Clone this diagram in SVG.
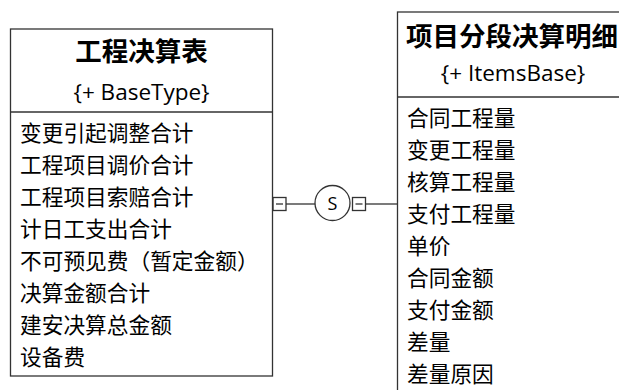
<svg xmlns="http://www.w3.org/2000/svg" width="619" height="390" viewBox="0 0 619 390">
<style>
.box{fill:#fff;stroke:#333;stroke-width:1.3}
.div{stroke:#333;stroke-width:1.3}
.title{font-family:"Noto Sans CJK SC","Noto Sans",sans-serif;font-weight:bold;font-size:26.5px;fill:#000;text-anchor:middle}
.sub{font-family:"Open Sans","Noto Sans",sans-serif;font-size:22.5px;fill:#000;text-anchor:middle}
.row{font-family:"Noto Sans CJK SC","Noto Sans",sans-serif;font-size:21.7px;fill:#000}
.ln{stroke:#333;stroke-width:1.3;fill:none}
.sq{fill:#fff;stroke:#333;stroke-width:1.3}
.s{font-family:"Open Sans","Liberation Sans",sans-serif;font-size:18px;fill:#000;text-anchor:middle}
</style>
<g id="connectors">
<line class="ln" x1="286" y1="204" x2="315" y2="204"/>
<line class="ln" x1="366" y1="204" x2="398" y2="204"/>
<rect class="sq" x="273" y="197.5" width="13" height="13"/>
<line class="ln" x1="276" y1="204" x2="283" y2="204"/>
<circle class="ln" cx="332.5" cy="203" r="17.5"/>
<text class="s" x="332.5" y="209.5">S</text>
<rect class="sq" x="352.5" y="197.5" width="13" height="13"/>
<line class="ln" x1="355.5" y1="204" x2="362.5" y2="204"/>
</g>
<g id="node-gongcheng">
<rect class="box" x="10.5" y="29" width="262" height="347"/>
<line class="div" x1="10.5" y1="112" x2="272.5" y2="112"/>
<text class="title" x="141.5" y="61">工程决算表</text>
<text class="sub" x="141.5" y="100">{+ BaseType}</text>
<text class="row" x="20" y="141">变更引起调整合计</text>
<text class="row" x="20" y="173">工程项目调价合计</text>
<text class="row" x="20" y="205">工程项目索赔合计</text>
<text class="row" x="20" y="237">计日工支出合计</text>
<text class="row" x="20" y="269">不可预见费（暂定金额）</text>
<text class="row" x="20" y="301">决算金额合计</text>
<text class="row" x="20" y="333">建安决算总金额</text>
<text class="row" x="20" y="365">设备费</text>
</g>
<g id="node-xiangmu">
<rect class="box" x="397.5" y="12" width="231" height="400"/>
<line class="div" x1="397.5" y1="97" x2="628.5" y2="97"/>
<text class="title" x="512" y="46">项目分段决算明细</text>
<text class="sub" x="513" y="81">{+ ItemsBase}</text>
<text class="row" x="407" y="126">合同工程量</text>
<text class="row" x="407" y="158">变更工程量</text>
<text class="row" x="407" y="190">核算工程量</text>
<text class="row" x="407" y="222">支付工程量</text>
<text class="row" x="407" y="254">单价</text>
<text class="row" x="407" y="286">合同金额</text>
<text class="row" x="407" y="318">支付金额</text>
<text class="row" x="407" y="350">差量</text>
<text class="row" x="407" y="382">差量原因</text>
</g>
</svg>
